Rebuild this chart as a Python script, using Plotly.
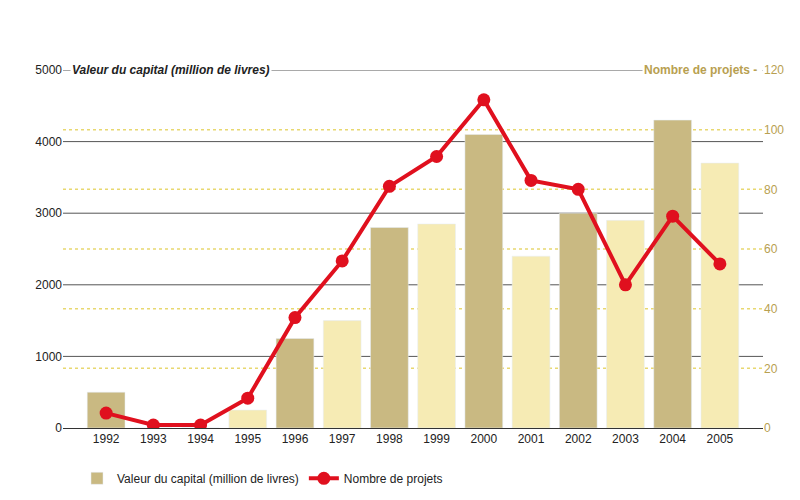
import plotly.graph_objects as go

years = ["1992","1993","1994","1995","1996","1997","1998","1999","2000","2001","2002","2003","2004","2005"]
capital = [500, 0, 0, 250, 1250, 1500, 2800, 2850, 4100, 2400, 3000, 2900, 4300, 3700]
projets = [5, 1, 1, 10, 37, 56, 81, 91, 110, 83, 80, 48, 71, 55]
left_ticks = [0, 1000, 2000, 3000, 4000, 5000]
right_ticks = [0, 20, 40, 60, 80, 100, 120]

dark, light = "#c9b982", "#f6ebb4"
colors = [dark if i % 2 == 0 else light for i in range(len(years))]

fig = go.Figure()
fig.add_bar(x=years, y=capital, marker_color=colors, width=0.8,
            name="Valeur du capital (million de livres)", yaxis="y")
fig.add_scatter(x=years, y=projets, mode="lines+markers", yaxis="y2",
                line=dict(color="#e0101e", width=4), marker=dict(size=13, color="#e0101e"),
                name="Nombre de projets")

for v in right_ticks[1:-1]:
    fig.add_shape(type="line", xref="paper", yref="y2", x0=0, x1=1, y0=v, y1=v,
                  line=dict(color="#e8d870", width=1.5, dash="dot"), layer="below")
for v in left_ticks[1:]:
    fig.add_shape(type="line", xref="paper", yref="y", x0=0, x1=1, y0=v, y1=v,
                  line=dict(color="#555", width=1), layer="below")

fig.add_annotation(xref="paper", yref="y", x=0.01, y=5000, text="<i><b>Valeur du capital (million de livres)</b></i>",
                   showarrow=False, xanchor="left", bgcolor="white", font=dict(size=12, color="#222"))
fig.add_annotation(xref="paper", yref="y", x=1.0, y=5000, text="<b>Nombre de projets - </b>",
                   showarrow=False, xanchor="right", bgcolor="white", font=dict(size=12, color="#b8a050"))

fig.update_layout(
    width=800, height=500, paper_bgcolor="white", plot_bgcolor="white",
    margin=dict(l=55, r=45, t=62, b=80, autoexpand=False), bargap=0.2,
    font=dict(family="Liberation Sans", size=12, color="#222"),
    xaxis=dict(showline=True, linecolor="#333", tickfont=dict(size=12), ticks=""),
    yaxis=dict(range=[0, 5000], tickvals=left_ticks, showgrid=False, zeroline=False,
               showline=False, tickfont=dict(size=12)),
    yaxis2=dict(range=[0, 120], tickvals=right_ticks, overlaying="y", side="right",
                showgrid=False, zeroline=False, tickfont=dict(size=12, color="#b8a050")),
    legend=dict(orientation="h", x=0.02, y=-0.1, xanchor="left", font=dict(size=12),
                traceorder="normal"),
)
fig.write_html("out.html")
